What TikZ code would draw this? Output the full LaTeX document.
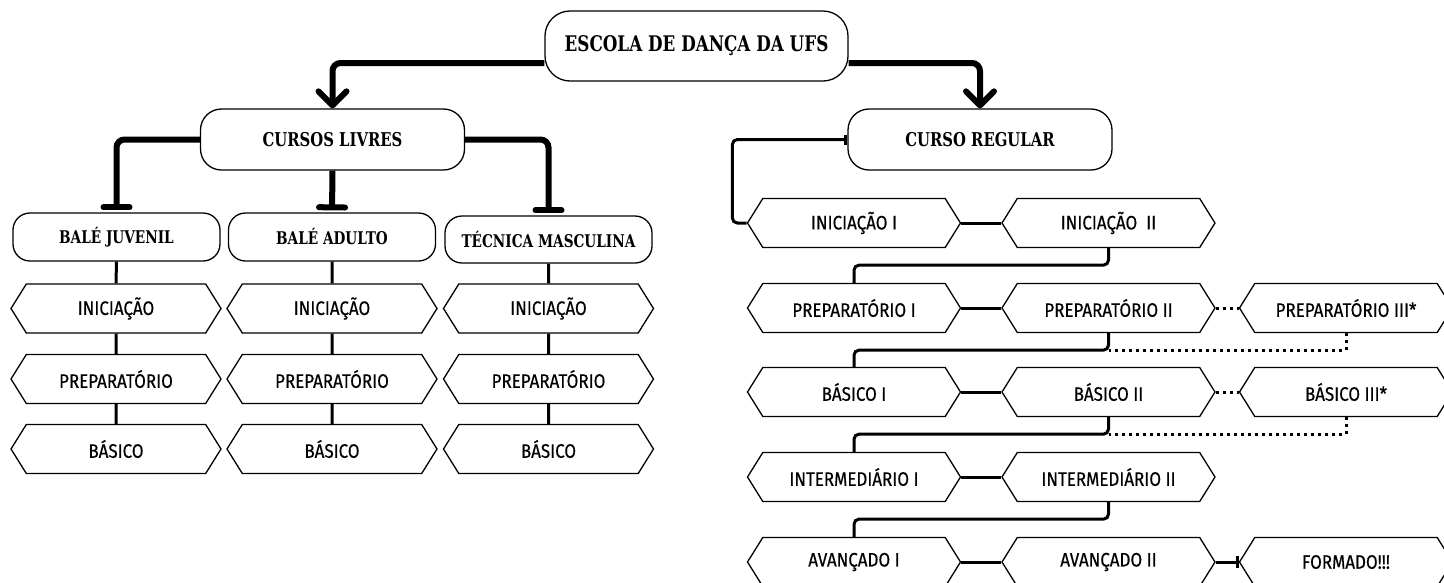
\documentclass[tikz,border=0pt]{standalone}
\usepackage{fontspec}
\usetikzlibrary{shapes.symbols,arrows.meta,backgrounds}
\newfontfamily\slabfont[FakeStretch=0.78]{DejaVu Serif}
\newfontfamily\levelfont[FakeStretch=0.87,FakeBold=0.4]{Fira Sans}

\begin{document}
\begin{tikzpicture}[x=1pt,y=-1pt,
  course/.style={draw, line width=1.3pt, fill=white, rectangle, rounded corners=17pt, minimum width=207pt, minimum height=48pt, inner sep=0pt, font=\slabfont\bfseries\fontsize{17.5}{20}\selectfont},
  level/.style={draw, line width=1.3pt, fill=white, signal, signal to=west and east, signal pointer angle=116, minimum width=210pt, minimum height=49pt, inner sep=0pt, font=\levelfont\fontsize{19.5}{22}\selectfont},
  thick link/.style={line width=6pt, rounded corners=8pt},
  link/.style={line width=3pt, rounded corners=5pt},
  maybe/.style={line width=3pt, dash pattern=on 3pt off 4pt}
]
\useasboundingbox (0,0) rectangle (1444,582);
\clip (0,0) rectangle (1444,582);

% Top
\node[course, minimum width=303pt, minimum height=70pt, rounded corners=25pt, font=\slabfont\bfseries\fontsize{21.5}{25}\selectfont] (escola) at (696.5,46) {ESCOLA DE DANÇA DA UFS};
\node[course, minimum width=264pt, minimum height=61pt, rounded corners=21pt, font=\slabfont\bfseries\fontsize{19}{22}\selectfont] (livres) at (332.5,139.5) {CURSOS LIVRES};
\node[course, minimum width=264pt, minimum height=61pt, rounded corners=21pt, font=\slabfont\bfseries\fontsize{19}{22}\selectfont] (regular) at (980,139.5) {CURSO REGULAR};

% Cursos livres
\node[course] (juvenil) at (116.5,237) {BALÉ JUVENIL};
\node[course] (adulto) at (332,237) {BALÉ ADULTO};
\node[course, minimum height=47pt] (tecnica) at (548.5,239.5) {TÉCNICA MASCULINA};

\node[level] (j1) at (116,308.5) {INICIAÇÃO};
\node[level] (j2) at (116,379) {PREPARATÓRIO};
\node[level] (j3) at (116,449) {BÁSICO};
\node[level] (a1) at (332,308.5) {INICIAÇÃO};
\node[level] (a2) at (332,379) {PREPARATÓRIO};
\node[level] (a3) at (332,449) {BÁSICO};
\node[level] (t1) at (548.5,308.5) {INICIAÇÃO};
\node[level] (t2) at (548.5,379) {PREPARATÓRIO};
\node[level] (t3) at (548.5,449) {BÁSICO};

% Curso regular
\node[level, minimum width=213pt] (ini1) at (854,223) {INICIAÇÃO I};
\node[level, minimum width=213pt] (ini2) at (1108.5,223) {INICIAÇÃO~~II};
\node[level, minimum width=213pt] (prep1) at (854,308) {PREPARATÓRIO I};
\node[level, minimum width=213pt] (prep2) at (1108.5,308) {PREPARATÓRIO II};
\node[level, minimum width=213pt] (prep3) at (1346,308) {PREPARATÓRIO III*};
\node[level, minimum width=213pt] (bas1) at (854,392) {BÁSICO I};
\node[level, minimum width=213pt] (bas2) at (1108.5,392) {BÁSICO II};
\node[level, minimum width=213pt] (bas3) at (1346,392) {BÁSICO III*};
\node[level, minimum width=213pt] (int1) at (854,477) {INTERMEDIÁRIO I};
\node[level, minimum width=213pt] (int2) at (1108.5,477) {INTERMEDIÁRIO II};
\node[level, minimum width=213pt] (av1) at (854,562) {AVANÇADO I};
\node[level, minimum width=213pt] (av2) at (1108.5,562) {AVANÇADO II};
\node[level, minimum width=213pt] (formado) at (1346,562) {FORMADO!!!};

\begin{scope}[on background layer]
% Escola
\draw[thick link, -{Straight Barb[length=14pt,width=28pt,round]}] ([yshift=-17pt]escola.west) -| (livres.north);
\draw[thick link, -{Straight Barb[length=14pt,width=28pt,round]}] ([yshift=-17pt]escola.east) -| (regular.north);

% Livres
\draw[thick link, -{Bar[width=26pt,round]}, shorten >=2pt] (livres.west) -| (juvenil.north);
\draw[thick link, -{Bar[width=26pt,round]}, shorten >=2pt] (livres.south) -- (adulto.north);
\draw[thick link, -{Bar[width=26pt,round]}, shorten >=2pt] (livres.east) -| (tecnica.north);
\draw[link] (juvenil) -- (j1) -- (j2) -- (j3);
\draw[link] (adulto) -- (a1) -- (a2) -- (a3);
\draw[link] (tecnica) -- (t1) -- (t2) -- (t3);

% Regular
\draw[link, {Bar[width=10pt]}-] (regular.west) -- ++(-115,0) |- (ini1.west);
\draw[link] (ini1.east) -- (ini2.west);
\draw[link] (ini2.south) -- ([yshift=-17pt]ini2.south) -| (prep1.north);
\draw[link] (prep1.east) -- (prep2.west);
\draw[maybe] (prep2.east) -- (prep3.west);
\draw[link] (prep2.south) -- ([yshift=-17pt]prep2.south) -| (bas1.north);
\draw[maybe] (prep3.south) |- ([yshift=-17pt]prep2.south);
\draw[link] (bas1.east) -- (bas2.west);
\draw[maybe] (bas2.east) -- (bas3.west);
\draw[link] (bas2.south) -- ([yshift=-17pt]bas2.south) -| (int1.north);
\draw[maybe] (bas3.south) |- ([yshift=-17pt]bas2.south);
\draw[link] (int1.east) -- (int2.west);
\draw[link] (int2.south) -- ([yshift=-17pt]int2.south) -| (av1.north);
\draw[link] (av1.east) -- (av2.west);
\draw[link, -{Bar[width=12pt]}] (av2.east) -- (formado.west);
\end{scope}
\end{tikzpicture}
\end{document}
